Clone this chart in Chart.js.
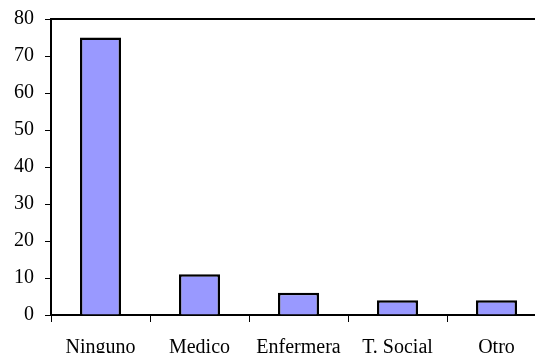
<!DOCTYPE html>
<html>
<head>
<meta charset="utf-8">
<script src="https://cdn.jsdelivr.net/npm/chart.js@4/dist/chart.umd.min.js"></script>
<style>
  html, body { margin: 0; padding: 0; background: #fff; overflow: hidden; }
  #wrap { width: 560px; height: 353px; }
</style>
</head>
<body>
<div id="wrap"><canvas id="bar_chart"></canvas></div>
<script>
const categories = ["Ninguno", "Medico", "Enfermera", "T. Social", "Otro"];
const values = [75, 11, 6, 4, 4];
const yTicks = [0, 10, 20, 30, 40, 50, 60, 70, 80];

// top frame line of the plot area
const topLine = {
    id: "topLine",
    afterDraw(chart) {
        let c = chart.ctx, a = chart.chartArea;
        c.save();
        c.strokeStyle = "black";
        c.lineWidth = 2;
        c.beginPath();
        c.moveTo(a.left - 1, a.top);
        c.lineTo(a.right, a.top);
        c.stroke();
        c.restore();
    }
};

let c = document.getElementById("bar_chart").getContext('2d');
let chart = new Chart(c, {
    type: "bar",
    data: {
        labels: categories,
        datasets: [{
            data: values,
            backgroundColor: "#9999FF",
            borderColor: "black",
            borderWidth: 2.5,
            categoryPercentage: 1,
            barPercentage: 0.415
        }]
    },
    options: {
        responsive: true,
        maintainAspectRatio: false,
        animation: false,
        layout: { padding: { top: 19, right: 14, left: 0, bottom: 0 } },
        plugins: { legend: { display: false }, tooltip: { enabled: false } },
        scales: {
            x: {
                afterFit: s => { s.height = 38; s.paddingLeft = 0; s.paddingRight = 0; },
                grid: { display: true, drawOnChartArea: false, offset: true, tickLength: 7, color: "black", lineWidth: 1 },
                border: { display: true, color: "black", width: 2 },
                ticks: { color: "black", padding: 14, maxRotation: 0, font: { family: "Liberation Serif", size: 20 } }
            },
            y: {
                min: 0,
                max: 80,
                afterFit: s => { s.width = 51; s.paddingTop = 0; s.paddingBottom = 0; },
                afterBuildTicks: s => { s.ticks = yTicks.map(v => ({ value: v })); },
                grid: { display: true, drawOnChartArea: false, tickLength: 6, color: "black", lineWidth: 1 },
                border: { display: true, color: "black", width: 2 },
                ticks: { color: "black", padding: 11, font: { family: "Liberation Serif", size: 20 } }
            }
        }
    },
    plugins: [topLine]
});
</script>
</body>
</html>
